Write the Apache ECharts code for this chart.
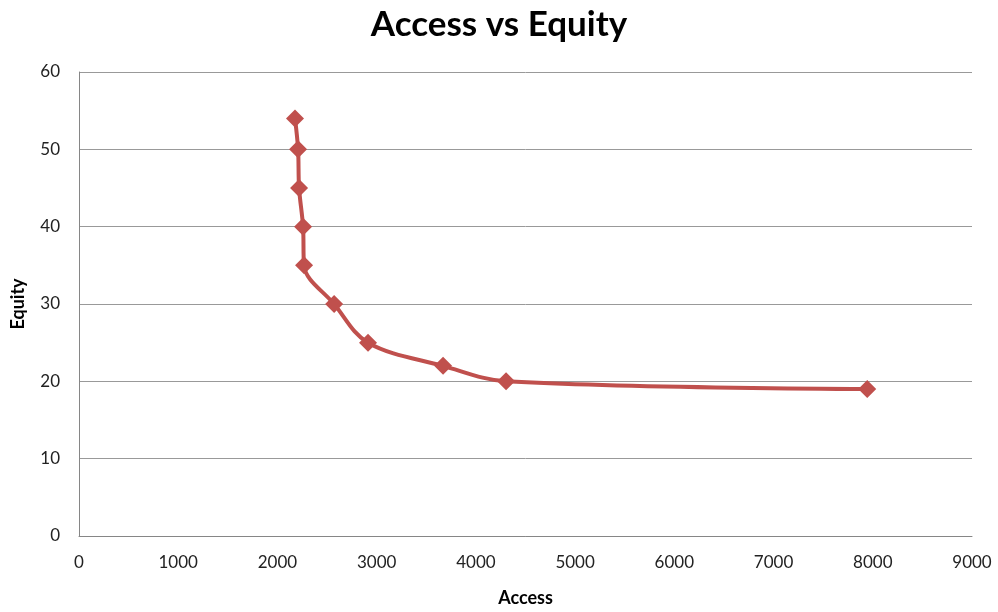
<!DOCTYPE html>
<html>
<head>
<meta charset="utf-8">
<script src="https://cdn.jsdelivr.net/npm/echarts@6/dist/echarts.min.js"></script>
<style>
  html, body { margin: 0; padding: 0; background: #fff; }
  #chart { width: 998px; height: 612px; }
</style>
</head>
<body>
<div id="chart"></div>
<script>
// Access (x) against Equity (y)
var accessValues = [2177, 2208, 2218, 2258, 2268, 2571, 2913, 3669, 4304, 7944];
var equityValues = [54, 50, 45, 40, 35, 30, 25, 22, 20, 19];

var points = accessValues.map(function (a, i) { return [a, equityValues[i]]; });

var font = 'Lato, "Open Sans", sans-serif';
var chart = echarts.init(document.getElementById('chart'), null, { renderer: 'canvas' });
chart.setOption({
  backgroundColor: '#ffffff',
  animation: false,
  title: {
    text: 'Access vs Equity',
    left: 'center',
    top: 2,
    textStyle: { fontFamily: font, fontSize: 35, fontWeight: 'bold', color: '#000' }
  },
  grid: { left: 79, right: 26, top: 72, bottom: 73, containLabel: false },
  xAxis: {
    type: 'value',
    min: 0, max: 9000, interval: 1000,
    name: 'Access',
    nameLocation: 'middle',
    nameGap: 53,
    nameTextStyle: { fontFamily: font, fontSize: 18, fontWeight: 'bold', color: '#000' },
    axisLine: { show: true, lineStyle: { color: '#868686', width: 1 } },
    axisTick: { show: false },
    splitLine: { show: false },
    axisLabel: {
      fontFamily: font, fontSize: 17, color: '#222', margin: 18,
      formatter: function (v) { return String(v); }
    }
  },
  yAxis: {
    type: 'value',
    min: 0, max: 60, interval: 10,
    name: 'Equity',
    nameLocation: 'middle',
    nameGap: 52,
    nameRotate: 90,
    nameTextStyle: { fontFamily: font, fontSize: 18, fontWeight: 'bold', color: '#000' },
    axisLine: { show: true, lineStyle: { color: '#868686', width: 1 } },
    axisTick: { show: false },
    splitLine: { show: true, lineStyle: { color: '#999999', width: 1 } },
    axisLabel: { fontFamily: font, fontSize: 17, color: '#222', margin: 19 }
  },
  series: [{
    type: 'line',
    data: points,
    smooth: 0.35,
    symbol: 'diamond',
    symbolSize: 18,
    lineStyle: { color: '#C0504D', width: 4 },
    itemStyle: { color: '#C0504D' }
  }]
});
</script>
</body>
</html>
